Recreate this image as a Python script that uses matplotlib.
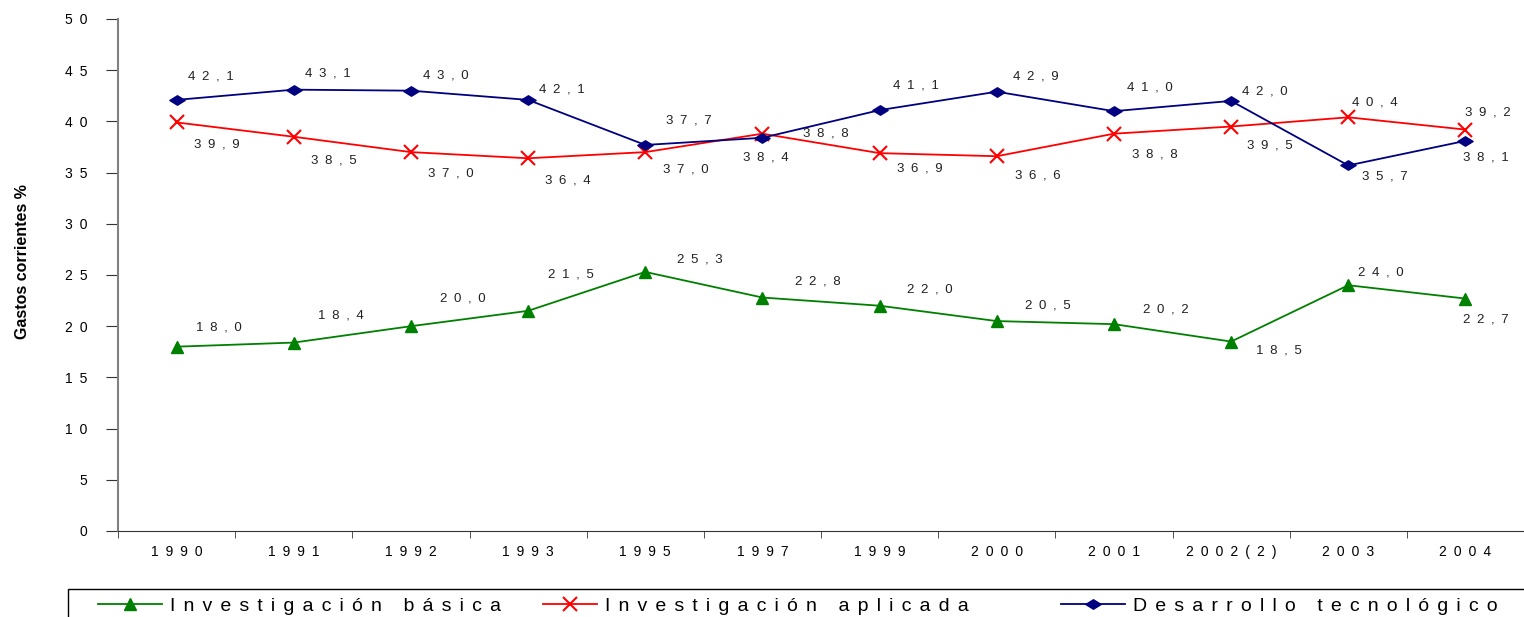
import numpy as np
import matplotlib.pyplot as plt
from matplotlib.path import Path
from matplotlib.patches import Rectangle

plt.rcParams['font.family'] = ['Liberation Sans', 'DejaVu Sans']

years = ["1990", "1991", "1992", "1993", "1995", "1997", "1999", "2000",
         "2001", "2002(2)", "2003", "2004"]
basica = [18.0, 18.4, 20.0, 21.5, 25.3, 22.8, 22.0, 20.5, 20.2, 18.5, 24.0, 22.7]
aplicada = [39.9, 38.5, 37.0, 36.4, 37.0, 38.8, 36.9, 36.6, 38.8, 39.5, 40.4, 39.2]
desarrollo = [42.1, 43.1, 43.0, 42.1, 37.7, 38.4, 41.1, 42.9, 41.0, 42.0, 35.7, 38.1]
series_names = ["Investigación básica", "Investigación aplicada", "Desarrollo tecnológico"]

# label offsets in pixels (dx, dy up positive)
off_bas = [(42, 19), (47, 27), (52, 28), (43, 36), (55, 12), (55, 16), (50, 16),
           (51, 16), (52, 15), (48, -9), (33, 13), (20, -21)]
off_apl = [(40, -22), (40, -24), (40, -21), (40, -22), (41, -17), (63, 0), (40, -15),
           (41, -19), (41, -21), (39, -19), (27, 15), (22, 17)]
off_des = [(34, 23), (34, 16), (35, 15), (34, 10), (44, 24), (3, -20), (36, 25),
           (39, 15), (36, 24), (34, 9), (37, -11), (20, -17)]


def spaced(s, gap="\u2002"):
    # wide letter spacing like the original excel chart
    return gap.join(s)


diamond = Path([(-1, 0), (0, 0.62), (1, 0), (0, -0.62), (-1, 0)],
               [Path.MOVETO, Path.LINETO, Path.LINETO, Path.LINETO, Path.CLOSEPOLY])

W, H = 1524, 617
fig = plt.figure(figsize=(W / 100, H / 100), dpi=100)
ax = fig.add_axes([118 / W, 1 - 531 / H, 1 - 118 / W, (531 - 19) / H])

x = np.arange(len(years))
l1, = ax.plot(x, basica, color="#008000", lw=1.3, marker="^", ms=9,
              mec="#008000", mfc="#008000", clip_on=False)
l2, = ax.plot(x, aplicada, color="#FF0000", lw=1.3, marker="x", ms=10,
              mew=1.5, clip_on=False)
l3, = ax.plot(x, desarrollo, color="#000080", lw=1.3, marker=diamond, ms=11,
              mec="#000080", mfc="#000080", clip_on=False)

for vals, offs in [(basica, off_bas), (aplicada, off_apl), (desarrollo, off_des)]:
    for i, v in enumerate(vals):
        ax.annotate(spaced(f"{v:.1f}".replace(".", ",")), (i, v),
                    xytext=offs[i], textcoords="offset pixels",
                    ha="center", va="center", fontsize=9.5, color="#222222")

ax.set_xlim(-0.5, len(years) - 0.5)
ax.set_ylim(0, 50)
ax.set_yticks(np.arange(0, 51, 5))
ax.set_yticklabels([spaced(str(t)) for t in range(0, 51, 5)], fontsize=10)
ax.tick_params(axis="y", length=9, pad=13, color="#333333")
ax.set_xticks(x)
ax.set_xticklabels([spaced(y) for y in years], fontsize=10)
ax.set_xticks(np.arange(-0.5, len(years), 1), minor=True)
ax.tick_params(axis="x", which="major", length=0, pad=10)
ax.tick_params(axis="x", which="minor", length=5, color="#333333")

for s in ["top", "right"]:
    ax.spines[s].set_visible(False)
ax.spines["left"].set_color("#808080")
ax.spines["left"].set_linewidth(1.5)
ax.spines["bottom"].set_color("#333333")

fig.text(23 / W, 1 - 262 / H, "Gastos corrientes %", rotation=90,
         fontsize=11.5, fontweight="bold", ha="center", va="center")

# legend box, runs off the bottom and right edge
fig.add_artist(Rectangle((68 / W, -0.1), 1.0, 0.1 + (1 - 589 / H),
                         transform=fig.transFigure, fill=False,
                         edgecolor="black", lw=1.0))
leg_x = [98, 543, 1061]
leg_len = [3.3, 2.8, 3.3]
for line, name, lx, hl in zip([l1, l2, l3], series_names, leg_x, leg_len):
    fig.legend([line], [spaced(name, "\u2005\u2006")], loc="center left",
               bbox_to_anchor=(lx / W, 1 - 606 / H), fontsize=14,
               frameon=False, borderaxespad=0, borderpad=0,
               handlelength=hl, handletextpad=0.4)

fig.savefig("out.png", dpi=100)
